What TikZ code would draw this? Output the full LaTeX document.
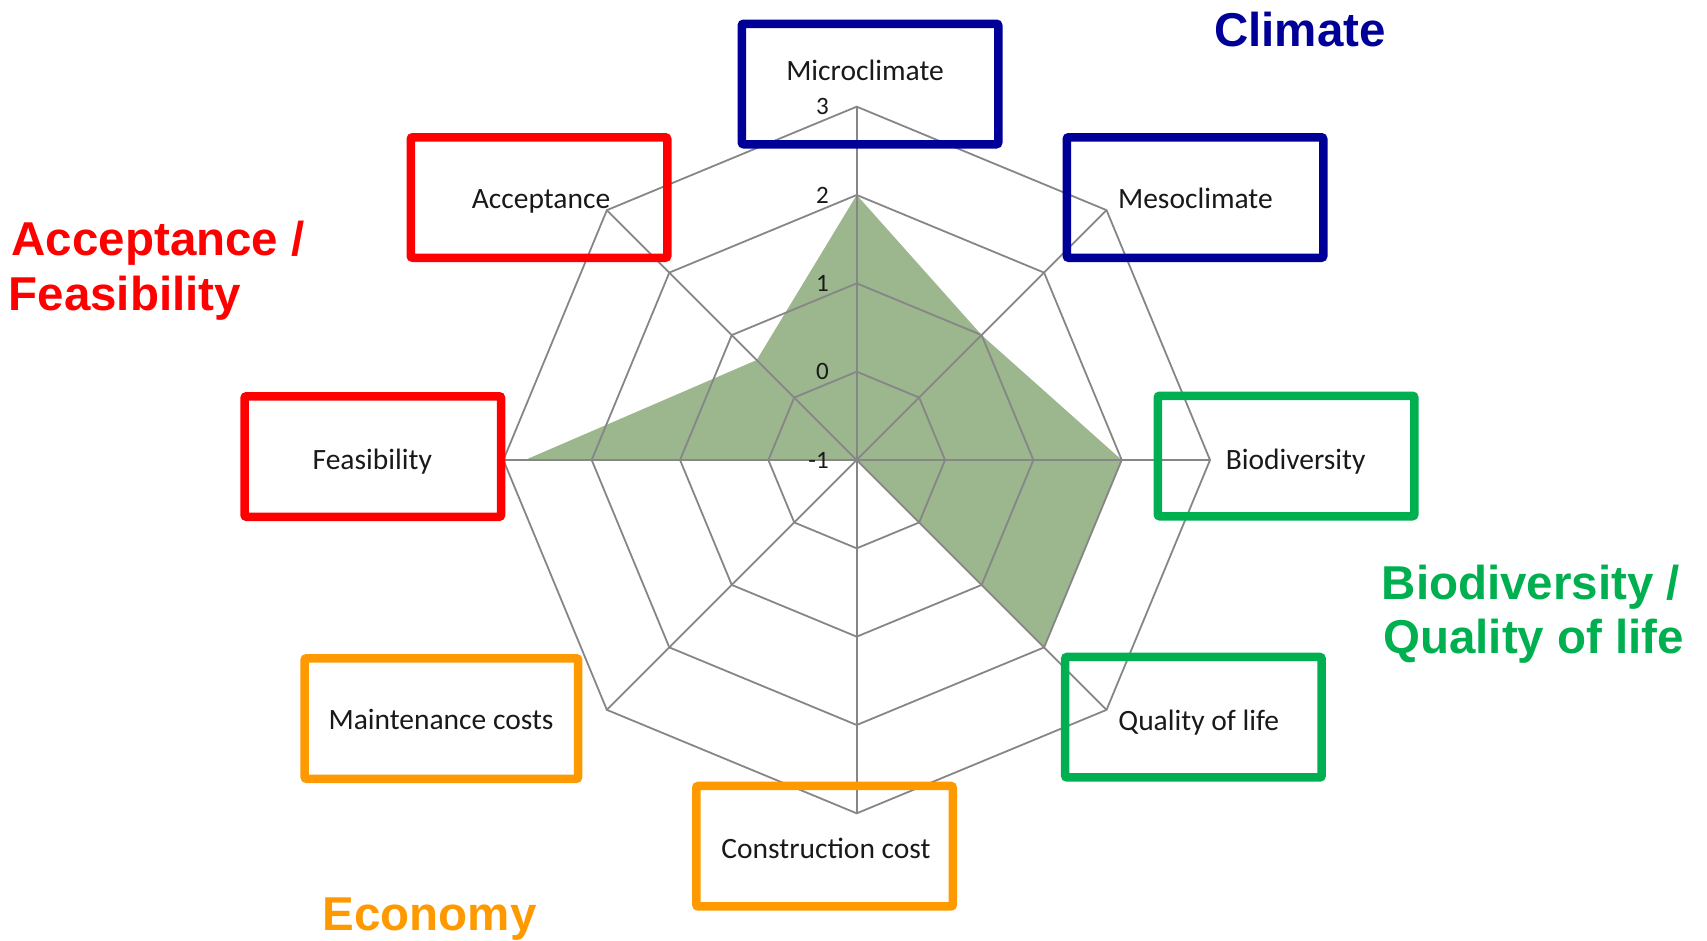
\documentclass[tikz,border=0pt]{standalone}
\usepackage{fontspec}
\newfontfamily\labfont{Carlito}
\newfontfamily\catfont{Liberation Sans}
\definecolor{cblue}{RGB}{0,0,153}
\definecolor{cred}{RGB}{255,0,0}
\definecolor{cgreen}{RGB}{0,176,80}
\definecolor{corange}{RGB}{255,153,0}
\definecolor{gridgray}{RGB}{134,134,134}
\definecolor{areagreen}{RGB}{156,182,141}
\tikzset{
  gridline/.style={draw=gridgray, line width=1.8pt},
  box/.style={draw=#1, line width=8.5pt, rounded corners=2pt, inner sep=0pt,
              minimum width=256.5pt, minimum height=120.5pt},
  lab/.style={inner sep=0pt, anchor=base, font=\labfont\fontsize{29.5}{35}\selectfont, text=black!90},
  num/.style={inner sep=0pt, anchor=east, font=\labfont\fontsize{25}{30}\selectfont, text=black!90},
  cat/.style={inner sep=0pt, anchor=base west, text=#1, font=\catfont\bfseries\fontsize{47.5}{55}\selectfont},
}
\begin{document}
\begin{tikzpicture}[x=1pt,y=1pt]
\useasboundingbox (0,0) rectangle (1707,-940);
% radar chart
\begin{scope}[shift={(856.7,-460)}]
  \fill[areagreen] (90:265) -- (45:176.67) -- (0:265) -- (-45:265) -- (0,0)
     -- (180:331.7) -- (135:141.4) -- cycle;
  \foreach \r in {88.33,176.67,265,353.33}
    \draw[gridline] (90:\r) -- (45:\r) -- (0:\r) -- (-45:\r) -- (-90:\r)
      -- (-135:\r) -- (180:\r) -- (135:\r) -- cycle;
  \foreach \a in {0,45,...,315}
    \draw[gridline] (0,0) -- (\a:353.33);
\end{scope}
% axis numbers
\node[num] (n3) at (829,-106.7) {3};
\node[num] (n2) at (829,-195) {2};
\node[num] (n1) at (829,-283.3) {1};
\node[num] (n0) at (829,-371.7) {0};
\node[num] (nm1) at (829,-460) {-1};
% boxes
\node[box=cblue] (micro) at (870,-84) {};
\node[box=cblue] (meso) at (1195,-197.5) {};
\node[box=cgreen] (bio) at (1286,-456) {};
\node[box=cgreen] (qol) at (1193.4,-717.2) {};
\node[box=corange] (cons) at (824.5,-846.2) {};
\node[box=corange, minimum width=273.5pt] (maint) at (441.4,-718.5) {};
\node[box=cred] (feas) at (372.8,-456.5) {};
\node[box=cred] (accept) at (539,-197.5) {};
% box texts
\node[lab] (tmicro) at (865,-80.5) {Microclimate};
\node[lab] (tmeso) at (1195.4,-208) {Mesoclimate};
\node[lab] (taccept) at (541,-208) {Acceptance};
\node[lab] (tbio) at (1295.6,-469) {Biodiversity};
\node[lab] (tfeas) at (372.3,-469) {Feasibility};
\node[lab] (tqol) at (1198.7,-730) {Quality of life};
\node[lab] (tcons) at (826,-858.3) {Construction cost};
\node[lab] (tmaint) at (441,-729.5) {Maintenance costs};
% category labels
\node[cat=cblue] (climate) at (1214,-46) {Climate};
\node[cat=cred] (af1) at (11.5,-255) {Acceptance /};
\node[cat=cred] (af2) at (8.5,-310) {Feasibility};
\node[cat=cgreen] (bq1) at (1381.5,-599.3) {Biodiversity /};
\node[cat=cgreen] (bq2) at (1383,-653.5) {Quality of life};
\node[cat=corange] (econ) at (322.5,-930) {Economy};
\end{tikzpicture}
\end{document}
